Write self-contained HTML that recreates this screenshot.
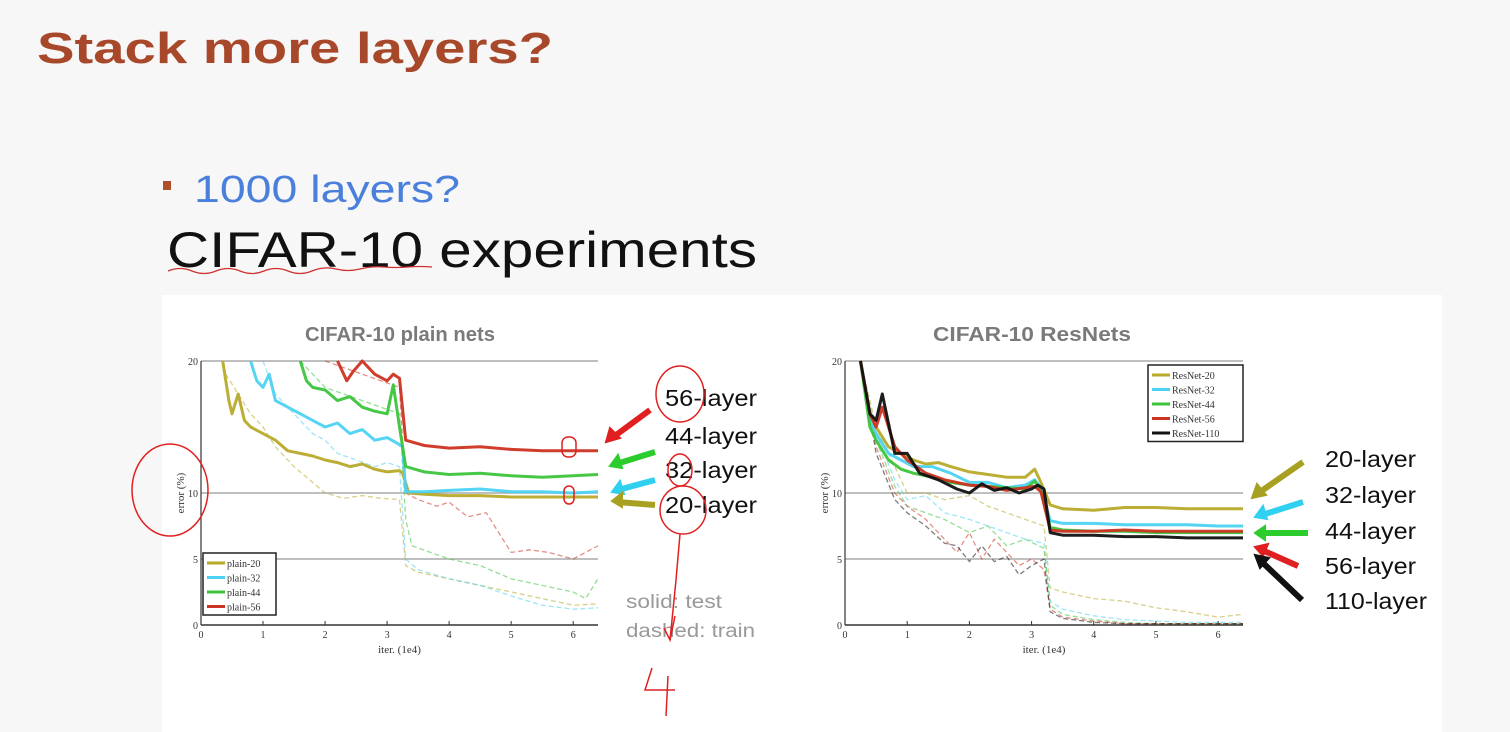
<!DOCTYPE html>
<html><head><meta charset="utf-8"><style>
html,body{margin:0;padding:0;width:1510px;height:732px;overflow:hidden;background:#f7f7f7;font-family:"Liberation Sans",sans-serif}
svg{position:absolute;left:0;top:0}
</style></head><body>
<svg id="s" width="1510" height="732">
<rect x="162" y="295" width="1280" height="437" fill="#ffffff"/>
<text x="37" y="63" font-size="44" font-weight="bold" fill="#a8482a" textLength="516" lengthAdjust="spacingAndGlyphs">Stack more layers?</text>
<rect x="163" y="181" width="8" height="9" fill="#b0502a"/>
<text x="194" y="202" font-size="38" fill="#4a80dc" textLength="266" lengthAdjust="spacingAndGlyphs">1000 layers?</text>
<text x="167" y="267" font-size="50" fill="#111" textLength="590" lengthAdjust="spacingAndGlyphs">CIFAR-10 experiments</text>
<path d="M168 271 q12 -5 24 0 t24 0 t24 0 t24 0 t24 0 t24 0 t24 -2 t24 0 t24 -2 t24 0 t24 0" stroke="#d03030" stroke-width="1.3" fill="none"/>
<text x="400" y="341" font-size="20" font-weight="bold" fill="#7a7a7a" text-anchor="middle" textLength="190" lengthAdjust="spacingAndGlyphs">CIFAR-10 plain nets</text>
<text x="1032" y="341" font-size="20" font-weight="bold" fill="#7a7a7a" text-anchor="middle" textLength="198" lengthAdjust="spacingAndGlyphs">CIFAR-10 ResNets</text>
<g id="left"></g>
<g id="right"></g>
<g font-size="23" fill="#111">
<text x="665" y="406" textLength="92" lengthAdjust="spacingAndGlyphs">56-layer</text><text x="665" y="444" textLength="92" lengthAdjust="spacingAndGlyphs">44-layer</text><text x="665" y="478" textLength="92" lengthAdjust="spacingAndGlyphs">32-layer</text><text x="665" y="513" textLength="92" lengthAdjust="spacingAndGlyphs">20-layer</text>
</g>
<g stroke-width="6" fill="none">
<path d="M650 410 L612 438" stroke="#e02020"/><path d="M606 442 l4 -14 l10 10z" fill="#e02020" stroke="#e02020" stroke-width="2"/>
<path d="M655 452 L616 464" stroke="#2ccc2c"/><path d="M610 466 l8 -11 l4 13z" fill="#2ccc2c" stroke="#2ccc2c" stroke-width="2"/>
<path d="M655 480 L618 490" stroke="#30d0f0"/><path d="M612 492 l8 -11 l4 13z" fill="#30d0f0" stroke="#30d0f0" stroke-width="2"/>
<path d="M655 505 L618 502" stroke="#a8a020"/><path d="M612 501 l10 -8 l0 14z" fill="#a8a020" stroke="#a8a020" stroke-width="2"/>
</g>
<text x="626" y="608" font-size="19" fill="#999" textLength="96" lengthAdjust="spacingAndGlyphs">solid: test</text>
<text x="626" y="637" font-size="19" fill="#999" textLength="129" lengthAdjust="spacingAndGlyphs">dashed: train</text>
<g font-size="23" fill="#111">
<text x="1325" y="467" textLength="91" lengthAdjust="spacingAndGlyphs">20-layer</text><text x="1325" y="503" textLength="91" lengthAdjust="spacingAndGlyphs">32-layer</text><text x="1325" y="539" textLength="91" lengthAdjust="spacingAndGlyphs">44-layer</text><text x="1325" y="574" textLength="91" lengthAdjust="spacingAndGlyphs">56-layer</text><text x="1325" y="609" textLength="102" lengthAdjust="spacingAndGlyphs">110-layer</text>
</g>
<g stroke-width="6" fill="none">
<path d="M1303 462 L1260 492" stroke="#a8a020"/><path d="M1252 498 l5 -14 l9 11z" fill="#a8a020" stroke="#a8a020" stroke-width="2"/>
<path d="M1303 502 L1262 515" stroke="#30d0f0"/><path d="M1255 517 l8 -11 l4 13z" fill="#30d0f0" stroke="#30d0f0" stroke-width="2"/>
<path d="M1308 533 L1262 533" stroke="#2ccc2c"/><path d="M1255 533 l10 -7 l0 14z" fill="#2ccc2c" stroke="#2ccc2c" stroke-width="2"/>
<path d="M1298 566 L1262 550" stroke="#e02020"/><path d="M1255 547 l13 -3 l-5 12z" fill="#e02020" stroke="#e02020" stroke-width="2"/>
<path d="M1302 600 L1262 562" stroke="#111"/><path d="M1255 555 l14 3 l-9 10z" fill="#111" stroke="#111" stroke-width="2"/>
</g>
<g stroke="#e02020" stroke-width="1.5" fill="none">
<ellipse cx="170" cy="490" rx="38" ry="46"/>
<ellipse cx="680" cy="394" rx="24" ry="28"/>
<ellipse cx="680" cy="470" rx="12" ry="16"/>
<ellipse cx="683" cy="510" rx="23" ry="24"/>
<rect x="562" y="437" width="14" height="20" rx="6"/>
<rect x="564" y="486" width="10" height="18" rx="5"/>
<path d="M680 534 L676 580 L670 640"/>
<path d="M675 616 L670 640 L664 628"/>
<path d="M652 668 L645 690 L675 690 M668 676 L666 716"/>
</g>
</svg>
<script>
// ---- plain nets data ----
const p20TestX=[0.35,0.45,0.5,0.6,0.7,0.8,1.0,1.2,1.4,1.6,1.8,2.0,2.2,2.4,2.6,2.8,3.0,3.2,3.25,3.35,3.6,4,4.5,5,5.5,6,6.4];
const p20TestY=[20,17,16,17.5,15.5,15,14.5,14,13.2,13,12.8,12.5,12.3,12,12.2,11.8,11.6,11.7,11.5,10,9.9,9.8,9.8,9.7,9.7,9.7,9.7];
const p32TestX=[0.8,0.9,1.0,1.1,1.2,1.4,1.6,1.8,2.0,2.2,2.4,2.6,2.8,3.0,3.15,3.25,3.3,3.6,4,4.5,5,5.5,6,6.4];
const p32TestY=[20,18.5,18,19,17,16.5,16,15.5,15,15.3,14.5,14.8,14,14.2,13.8,13.5,10.1,10.1,10.2,10.3,10.1,10.1,10,10.1];
const p44TestX=[1.6,1.7,1.8,2.0,2.2,2.4,2.6,2.8,3.0,3.1,3.2,3.3,3.6,4,4.5,5,5.5,6,6.4];
const p44TestY=[20,18.5,18,17.8,17,17.3,16.5,16.2,16,18.2,15,12,11.6,11.4,11.5,11.3,11.2,11.3,11.4];
const p56TestX=[2.2,2.35,2.45,2.6,2.8,3.0,3.1,3.2,3.3,3.6,4,4.5,5,5.5,6,6.4];
const p56TestY=[20,18.5,19.2,20,19,18.5,19,18.7,14,13.6,13.4,13.5,13.3,13.2,13.2,13.2];
const p20TrainX=[0.4,0.6,0.8,1.0,1.2,1.5,1.8,2.0,2.3,2.6,2.9,3.2,3.3,3.5,4,4.5,5,5.5,6,6.4];
const p20TrainY=[19,17.5,16,15,13.5,12,10.8,10,9.6,9.8,9.6,9.5,4.5,4,3.5,3,2.5,2,1.5,1.6];
const p32TrainX=[1.0,1.2,1.5,1.8,2.0,2.2,2.5,2.8,3.0,3.2,3.3,3.5,4,4.5,5,5.5,6,6.4];
const p32TrainY=[20,17.5,16,14.5,14,13,12.5,12,12.3,12,5,4.2,3.5,3,2.2,1.5,1.2,1.3];
const p44TrainX=[1.6,1.8,2.0,2.3,2.6,2.9,3.2,3.3,3.4,3.7,4,4.5,5,5.5,6,6.2,6.4];
const p44TrainY=[20,19,18,17.5,17,16.5,16,8,6,5.5,5,4.5,3.5,3,2.5,2,3.5];
const p56TrainX=[2.0,2.3,2.6,2.9,3.2,3.3,3.5,3.8,4,4.3,4.6,4.8,5,5.3,5.6,6,6.4];
const p56TrainY=[20,19.5,19,18.5,18,10,9.5,9,9.3,8.2,8.5,7,5.5,5.7,5.5,5,6];
// ---- resnet data ----
const r20TestX=[0.25,0.4,0.5,0.7,0.9,1.1,1.3,1.5,1.7,2.0,2.3,2.6,2.9,3.05,3.15,3.3,3.5,4,4.5,5,5.5,6,6.4];
const r20TestY=[20,16,15,13.5,13,12.5,12.2,12.3,12,11.6,11.4,11.2,11.2,11.8,10.8,9.1,8.8,8.7,8.9,8.9,8.8,8.8,8.8];
const r32TestX=[0.25,0.4,0.5,0.7,0.9,1.1,1.4,1.7,2.0,2.3,2.6,2.9,3.05,3.15,3.3,3.5,4,4.5,5,5.5,6,6.4];
const r32TestY=[20,15.5,14.5,13,12.5,12,12,11.5,10.8,10.8,10.4,10.6,11,10.4,7.9,7.7,7.7,7.6,7.6,7.6,7.5,7.5];
const r44TestX=[0.25,0.4,0.5,0.7,0.9,1.1,1.4,1.7,2.0,2.3,2.6,2.9,3.05,3.15,3.3,3.5,4,4.5,5,5.5,6,6.4];
const r44TestY=[20,15,14,12.5,11.8,11.5,11.2,10.8,10.6,10.5,10.4,10.3,10.9,10.2,7.4,7.2,7.1,7.1,7.0,7.0,7.0,7.0];
const r56TestX=[0.25,0.4,0.5,0.6,0.8,1.0,1.3,1.6,2.0,2.3,2.6,2.9,3.05,3.15,3.3,3.5,4,4.5,5,5.5,6,6.4];
const r56TestY=[20,16,15,16.5,13.5,12.5,11.5,11,10.6,10.5,10.2,10.4,10.5,10.1,7.2,7.1,7.1,7.2,7.1,7.1,7.1,7.1];
const r110TestX=[0.25,0.4,0.5,0.6,0.8,1.0,1.2,1.5,1.8,2.0,2.2,2.4,2.6,2.8,3.0,3.1,3.2,3.3,3.5,4,4.5,5,5.5,6,6.4];
const r110TestY=[20,16,15.5,17.5,13,13,11.5,11,10.3,10,10.7,10.2,10.4,10,10.3,10.6,10.3,7,6.8,6.8,6.7,6.7,6.6,6.6,6.6];
const r20TrainX=[0.25,0.5,0.8,1.0,1.3,1.6,2.0,2.3,2.6,2.9,3.2,3.3,3.5,4,4.5,5,5.5,6,6.4];
const r20TrainY=[20,15,12,10,10,9.5,9.8,9,8.5,8,7.5,2.8,2.5,2,1.8,1.3,1,0.6,0.8];
const r32TrainX=[0.25,0.5,0.8,1.0,1.3,1.6,2.0,2.3,2.6,2.9,3.2,3.3,3.5,4,4.5,5,5.5,6,6.4];
const r32TrainY=[20,14.5,11,9.5,9.8,8.5,8,7.5,7,6.5,6.2,1.8,1.2,0.7,0.4,0.3,0.2,0.2,0.2];
const r44TrainX=[0.25,0.5,0.8,1.0,1.3,1.6,2.0,2.3,2.6,2.9,3.2,3.3,3.5,4,4.5,5,5.5,6,6.4];
const r44TrainY=[20,14,10.5,9,8.5,8,7,7.5,6,6.5,5.8,1.5,0.8,0.4,0.2,0.1,0.1,0.1,0.1];
const r56TrainX=[0.25,0.5,0.8,1.0,1.3,1.6,1.8,2.0,2.2,2.4,2.6,2.8,3.0,3.2,3.3,3.5,4,4.5,5,5.5,6,6.4];
const r56TrainY=[20,13.5,10,9,8,6.5,5.5,7,5,6.5,5.5,4.5,5,4.2,1.2,0.6,0.3,0.1,0.1,0.1,0.1,0.1];
const r110TrainX=[0.25,0.5,0.8,1.0,1.3,1.6,1.8,2.0,2.2,2.4,2.6,2.8,3.0,3.2,3.3,3.5,4,4.5,5,5.5,6,6.4];
const r110TrainY=[20,13,9.5,8.5,7.5,6.2,6,4.8,6,4.8,5.2,3.8,4.5,5,1,0.5,0.2,0.1,0.1,0.1,0.1,0.1];
const yTicks=[0,5,10,20];
const xTicks=[0,1,2,3,4,5,6];
const plainLegend=["plain-20","plain-32","plain-44","plain-56"];
const resLegend=["ResNet-20","ResNet-32","ResNet-44","ResNet-56","ResNet-110"];

const NS="http://www.w3.org/2000/svg";
const OL="#b8aa2a",CY="#4cd2f2",GR="#3cc43c",RD="#cc3322",BK="#111";
function mk(tag,attrs,parent){const e=document.createElementNS(NS,tag);for(const k in attrs)e.setAttribute(k,attrs[k]);parent.appendChild(e);return e;}
function chart(g,x0,x1,prefix){
  const X=v=>x0+(x1-x0)*v/6.4, Y=v=>625-v*13.2;
  yTicks.forEach(t=>{
    const l=mk('line',{x1:X(0),x2:X(6.4),y1:Y(t),y2:Y(t),stroke:t==0?'#333':'#aaa','stroke-width':1.5},g);
    
    
    const tx=mk('text',{x:X(0)-3,y:Y(t)+4,'font-size':10,'font-family':'Liberation Serif,serif','text-anchor':'end',fill:'#333'},g);
    tx.textContent=t;
    
    
  });
  const ax=mk('line',{x1:X(0),x2:X(0),y1:Y(20),y2:Y(0),stroke:'#333','stroke-width':1.2},g);
  
  
  xTicks.forEach(t=>{
    mk('line',{x1:X(t),x2:X(t),y1:Y(0),y2:Y(0)-4,stroke:'#333'},g);
    const tx=mk('text',{x:X(t),y:638,'font-size':10,'font-family':'Liberation Serif,serif','text-anchor':'middle',fill:'#333'},g);
    tx.textContent=t;
    
    
  });
  const xl=mk('text',{x:(X(0)+X(6.4))/2,y:653,'font-size':11,'font-family':'Liberation Serif,serif','text-anchor':'middle',fill:'#333'},g);
  xl.textContent='iter. (1e4)';
  
  
  const yl=mk('text',{x:0,y:0,'font-size':11,'font-family':'Liberation Serif,serif','text-anchor':'middle',fill:'#333',transform:`translate(${X(0)-17},${Y(10)}) rotate(-90)`},g);
  yl.textContent='error (%)';
  
  
  return {X,Y};
}
function series(g,sc,xs,ys,color,dashed,name){
  const d=xs.map((x,i)=>(i?'L':'M')+sc.X(x).toFixed(1)+' '+sc.Y(ys[i]).toFixed(1)).join(' ');
  const p=mk('path',{d,fill:'none',stroke:color,'stroke-width':dashed?1.3:3,'stroke-dasharray':dashed?'5 3':'none',opacity:dashed?0.55:0.95,'stroke-linejoin':'round'},g);
  
  
}
const L=document.getElementById('left'), R=document.getElementById('right');
const ls=chart(L,201,598,'p'), rs=chart(R,845,1243,'r');
series(L,ls,p20TrainX,p20TrainY,OL,true,'plain-20-train');
series(L,ls,p32TrainX,p32TrainY,CY,true,'plain-32-train');
series(L,ls,p44TrainX,p44TrainY,GR,true,'plain-44-train');
series(L,ls,p56TrainX,p56TrainY,RD,true,'plain-56-train');
series(L,ls,p20TestX,p20TestY,OL,false,'plain-20-test');
series(L,ls,p32TestX,p32TestY,CY,false,'plain-32-test');
series(L,ls,p44TestX,p44TestY,GR,false,'plain-44-test');
series(L,ls,p56TestX,p56TestY,RD,false,'plain-56-test');
series(R,rs,r20TrainX,r20TrainY,OL,true,'resnet-20-train');
series(R,rs,r32TrainX,r32TrainY,CY,true,'resnet-32-train');
series(R,rs,r44TrainX,r44TrainY,GR,true,'resnet-44-train');
series(R,rs,r56TrainX,r56TrainY,RD,true,'resnet-56-train');
series(R,rs,r110TrainX,r110TrainY,BK,true,'resnet-110-train');
series(R,rs,r20TestX,r20TestY,OL,false,'resnet-20-test');
series(R,rs,r32TestX,r32TestY,CY,false,'resnet-32-test');
series(R,rs,r44TestX,r44TestY,GR,false,'resnet-44-test');
series(R,rs,r56TestX,r56TestY,RD,false,'resnet-56-test');
series(R,rs,r110TestX,r110TestY,BK,false,'resnet-110-test');
function legend(g,x,y,w,labels,colors,name){
  const b=mk('rect',{x,y,width:w,height:labels.length*14.5+4,fill:'#fff',stroke:'#222','stroke-width':1.5},g);
  
  
  labels.forEach((lab,i)=>{
    const cy=y+10+i*14.5;
    mk('line',{x1:x+4,x2:x+22,y1:cy,y2:cy,stroke:colors[i],'stroke-width':3},g);
    const t=mk('text',{x:x+24,y:cy+4,'font-size':10,'font-family':'Liberation Serif,serif',fill:'#333'},g);
    t.textContent=lab;
    
    
  });
}
legend(L,203,553,73,plainLegend,[OL,CY,GR,RD],'plain-legend');
legend(R,1148,365,95,resLegend,[OL,CY,GR,RD,BK],'resnet-legend');
</script>
</body></html>
